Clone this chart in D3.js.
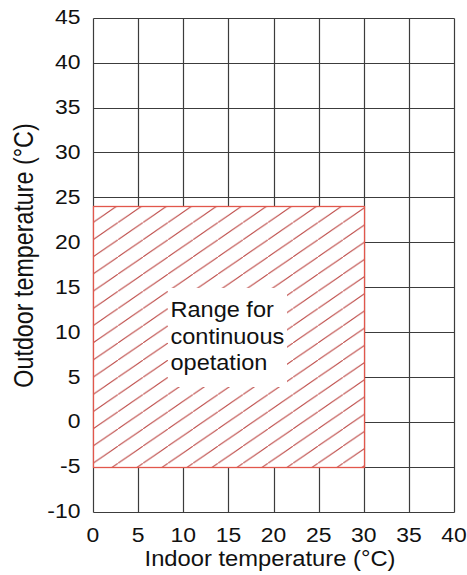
<!DOCTYPE html>
<html>
<head>
<meta charset="utf-8">
<script src="https://cdn.jsdelivr.net/npm/d3@7"></script>
<style>
  html, body { margin: 0; padding: 0; background: #fff; }
  svg { display: block; }
  text { font-family: "Liberation Sans", Arial, sans-serif; fill: #111; }
</style>
</head>
<body>
<svg id="chart" width="467" height="575"></svg>
<script>
// ---- data ----
const xDomain = [0, 40];
const yDomain = [-10, 45];
const xTicks = [0, 5, 10, 15, 20, 25, 30, 35, 40];
const yTicks = [-10, -5, 0, 5, 10, 15, 20, 25, 30, 35, 40, 45];
const regionX = [0, 30];    // indoor temperature range (°C)
const regionY = [-5, 24];   // outdoor temperature range (°C)
const regionLabel = ["Range for", "continuous", "opetation"];
const xTitle = "Indoor temperature (°C)";
const yTitle = "Outdoor temperature (°C)";

// ---- layout ----
const W = 467, H = 575;
const plot = { left: 93, right: 454, top: 17.7, bottom: 511.7 };
const gridColor = "#3c3c3c";
const redBorder = "#e2574c";
const hatchColor = "#c0504d";

const svg = d3.select("#chart");
svg.append("rect").attr("width", W).attr("height", H).attr("fill", "#fff");

const x = d3.scaleLinear().domain(xDomain).range([plot.left, plot.right]);
const y = d3.scaleLinear().domain(yDomain).range([plot.bottom, plot.top]);

// hatch pattern
const defs = svg.append("defs");
const pw = 25, ph = 17.2;
const pat = defs.append("pattern")
  .attr("id", "hatch")
  .attr("patternUnits", "userSpaceOnUse")
  .attr("x", x(regionX[0]))
  .attr("y", y(regionY[1]) - 1 - ph)
  .attr("width", pw).attr("height", ph);
pat.append("line").attr("x1", -pw * 0.1).attr("y1", ph * 1.1).attr("x2", pw * 1.1).attr("y2", -ph * 0.1)
  .attr("stroke", hatchColor).attr("stroke-width", 1.1);

// grid
const snap = v => Math.round(v) + 0.5;
const grid = svg.append("g");
grid.selectAll("line.v").data(xTicks).join("line")
  .attr("x1", d => snap(x(d))).attr("x2", d => snap(x(d)))
  .attr("y1", snap(plot.top)).attr("y2", snap(plot.bottom))
  .attr("stroke", gridColor).attr("stroke-width", 1.2);
grid.selectAll("line.h").data(yTicks).join("line")
  .attr("y1", d => snap(y(d))).attr("y2", d => snap(y(d)))
  .attr("x1", snap(plot.left)).attr("x2", snap(plot.right))
  .attr("stroke", gridColor).attr("stroke-width", 1.2);

// region
const rx = snap(x(regionX[0])), rw = snap(x(regionX[1])) - rx;
const ry = snap(y(regionY[1])), rh = snap(y(regionY[0])) - ry;
svg.append("rect").attr("x", rx).attr("y", ry).attr("width", rw).attr("height", rh).attr("fill", "#fff");
svg.append("rect").attr("x", rx).attr("y", ry).attr("width", rw).attr("height", rh).attr("fill", "url(#hatch)");
svg.append("rect").attr("x", rx).attr("y", ry).attr("width", rw).attr("height", rh)
  .attr("fill", "none").attr("stroke", redBorder).attr("stroke-width", 1.3);

// label box
const box = { x: 168, y: 288, w: 119, h: 99 };
svg.append("rect").attr("x", box.x).attr("y", box.y).attr("width", box.w).attr("height", box.h).attr("fill", "#fff");
const lblBase = [316.7, 343.5, 370];
svg.selectAll("text.lbl").data(regionLabel).join("text")
  .attr("class", "lbl")
  .attr("transform", (d, i) => `translate(170.5,${lblBase[i]}) scale(1.08,1)`)
  .attr("font-size", 21.8)
  .text(d => d);

// tick labels
svg.selectAll("text.yt").data(yTicks).join("text")
  .attr("transform", d => `translate(80.5,${y(d) + 6.6}) scale(1.17,1)`)
  .attr("text-anchor", "end")
  .attr("font-size", 19.6)
  .text(d => d);
svg.selectAll("text.xt").data(xTicks).join("text")
  .attr("transform", d => `translate(${x(d)},541.8) scale(1.17,1)`)
  .attr("text-anchor", "middle")
  .attr("font-size", 19.6)
  .text(d => d);

// axis titles
svg.append("text")
  .attr("transform", "translate(270,565.7) scale(1.08,1)")
  .attr("text-anchor", "middle")
  .attr("font-size", 22)
  .text(xTitle);
svg.append("text")
  .attr("transform", "translate(32.5,255.5) scale(1.15,1) rotate(-90)")
  .attr("text-anchor", "middle")
  .attr("font-size", 23.3)
  .text(yTitle);
</script>
</body>
</html>
